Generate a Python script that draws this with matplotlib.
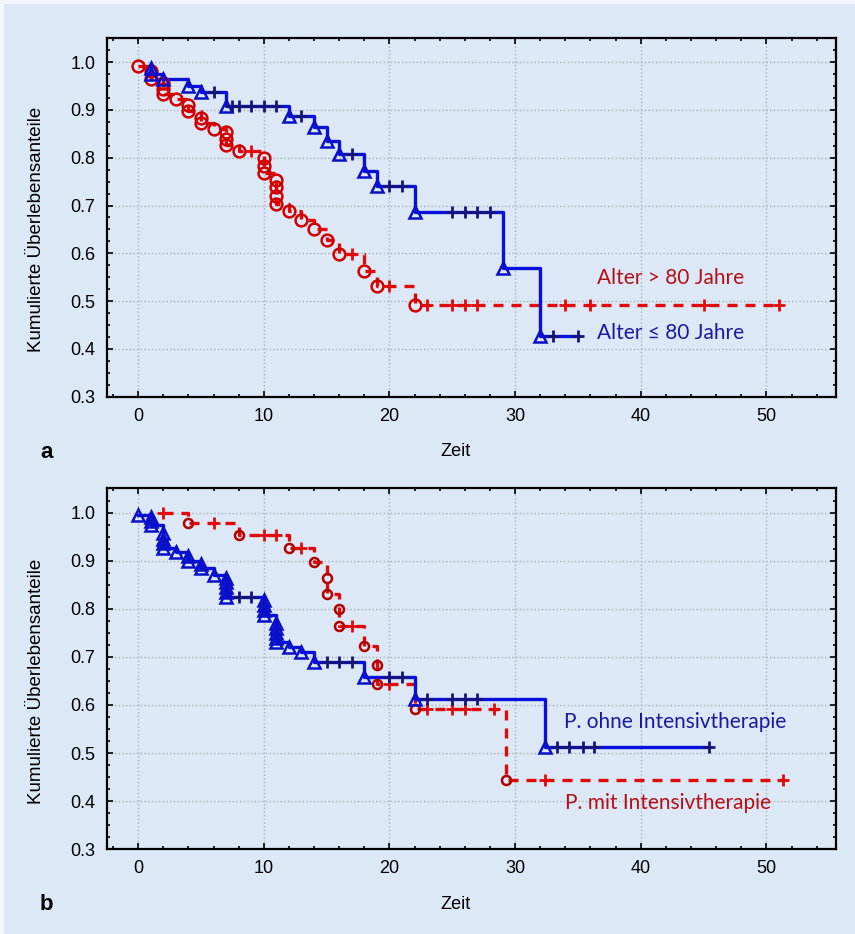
import numpy as np
import matplotlib
matplotlib.use('Agg')
import matplotlib.pyplot as plt
from matplotlib.patches import Rectangle
from matplotlib.ticker import MultipleLocator, FormatStrFormatter

plt.rcParams['font.family'] = ['Liberation Sans', 'DejaVu Sans']

# panel a: Alter <= 80 (blau), Alter > 80 (rot)
a_blue_event_t = [1, 1, 2, 4, 5, 7, 12, 14, 15, 16, 18, 19, 22, 29, 32]
a_blue_event_s = [0.988, 0.976, 0.964, 0.951, 0.937, 0.909, 0.887, 0.864, 0.836,
                  0.807, 0.772, 0.740, 0.686, 0.570, 0.428]
a_blue_cens_t = [6, 7.5, 8, 9, 10, 11, 13, 17, 20, 21, 25, 26, 27, 28, 33, 35]

a_red_event_t = [0, 1, 1, 2, 2, 2, 3, 4, 4, 5, 5, 6, 7, 7, 7, 8, 10, 10, 10,
                 11, 11, 11, 11, 12, 13, 14, 15, 16, 18, 19, 22]
a_red_event_s = [0.992, 0.981, 0.965, 0.957, 0.944, 0.934, 0.922, 0.911, 0.897,
                 0.884, 0.873, 0.861, 0.853, 0.840, 0.826, 0.814, 0.800, 0.782,
                 0.768, 0.753, 0.739, 0.720, 0.703, 0.688, 0.669, 0.650, 0.627,
                 0.598, 0.564, 0.531, 0.491]
a_red_cens_t = [9, 17, 20, 23, 25, 26, 27, 34, 36, 45, 51]

# panel b: ohne Intensivtherapie (blau), mit Intensivtherapie (rot)
b_blue_event_t = [0, 1, 1, 1, 2, 2, 2, 2, 3, 4, 4, 5, 5, 6, 7, 7, 7, 7, 7,
                  10, 10, 10, 10, 11, 11, 11, 11, 11, 12, 13, 14, 18, 22, 32.4]
b_blue_event_s = [0.995, 0.991, 0.983, 0.974, 0.957, 0.946, 0.936, 0.926, 0.918,
                  0.909, 0.900, 0.893, 0.884, 0.870, 0.864, 0.855, 0.845, 0.835,
                  0.825, 0.818, 0.808, 0.797, 0.787, 0.770, 0.760, 0.750, 0.740,
                  0.731, 0.721, 0.711, 0.690, 0.659, 0.612, 0.512]
b_blue_cens_t = [8, 9, 15, 16, 17, 20, 21, 23, 25, 26, 27, 33.3, 34.3, 35.4, 36.3, 45.4]

b_red_event_t = [4, 8, 12, 14, 15, 15, 16, 16, 18, 19, 19, 22, 29.3]
b_red_event_s = [0.978, 0.953, 0.926, 0.898, 0.863, 0.830, 0.799, 0.764, 0.722,
                 0.684, 0.643, 0.591, 0.444]
b_red_cens_t = [2, 6, 10, 11, 13, 17, 20, 23, 25, 26, 28.3, 32.4, 51.3]

BG = '#dce8f5'
BLUE = '#0a10dc'
RED = '#e00a0a'


def km_path(ev_t, ev_s, cens_t):
    ev_t = np.asarray(ev_t, float)
    ev_s = np.asarray(ev_s, float)
    start = min(ev_t.min(), min(cens_t))
    end = max(ev_t.max(), max(cens_t))
    if start < ev_t[0]:
        xs, ys = [start], [1.0]
    else:
        xs, ys = [ev_t[0]], [ev_s[0]]
        ev_t, ev_s = ev_t[1:], ev_s[1:]
    for t, s in zip(ev_t, ev_s):
        xs += [t, t]
        ys += [ys[-1], s]
    xs.append(end)
    ys.append(ys[-1])
    return np.array(xs), np.array(ys)


def surv_at(ev_t, ev_s, t):
    idx = np.searchsorted(ev_t, t, side='right') - 1
    return np.where(idx >= 0, np.asarray(ev_s)[np.clip(idx, 0, None)], 1.0)


def draw_km(ax, ev_t, ev_s, cens_t, color, marker, ms, mec, ls, pluscolor):
    xs, ys = km_path(ev_t, ev_s, cens_t)
    ax.plot(xs, ys, color=color, lw=2.4, ls=ls, zorder=3)
    ax.plot(ev_t, ev_s, ls='none', marker=marker, ms=ms, mfc='none', mec=mec,
            mew=1.8, zorder=4)
    ax.plot(cens_t, surv_at(ev_t, ev_s, cens_t), ls='none', marker='+', ms=9,
            mew=2.0, color=pluscolor, zorder=4)


def style_axes(ax):
    ax.set_facecolor(BG)
    ax.set_xlim(-2.5, 55.5)
    ax.set_ylim(0.3, 1.05)
    ax.xaxis.set_major_locator(MultipleLocator(10))
    ax.xaxis.set_minor_locator(MultipleLocator(2))
    ax.yaxis.set_major_locator(MultipleLocator(0.1))
    ax.yaxis.set_minor_locator(MultipleLocator(0.025))
    ax.yaxis.set_major_formatter(FormatStrFormatter('%.1f'))
    ax.set_yticks(np.arange(0.3, 1.01, 0.1))
    ax.tick_params(which='both', direction='in', top=True, right=True,
                   width=1.2, labelsize=13, colors='black')
    ax.tick_params(which='major', length=4, pad=8)
    ax.tick_params(which='minor', length=2.5)
    ax.grid(True, which='major', color='#a9b1ba', ls=':', lw=1.0)
    for sp in ax.spines.values():
        sp.set_linewidth(1.6)
    ax.set_xlabel('Zeit', fontsize=13)
    ax.set_ylabel('Kumulierte Überlebensanteile', fontsize=13.5)
    ax.xaxis.set_label_coords(0.478, -0.129)
    ax.yaxis.set_label_coords(-0.085, 0.4665)


fig = plt.figure(figsize=(8.55, 9.34), dpi=100, facecolor='#f3f7fc')
fig.patches.append(Rectangle((4 / 855, 0), 1, 1 - 4 / 934, transform=fig.transFigure,
                             facecolor=BG, edgecolor='none', zorder=-10))

ax_a = fig.add_axes([0.1248, 0.5753, 0.8524, 0.3837])
ax_b = fig.add_axes([0.1248, 0.0908, 0.8524, 0.3862])
style_axes(ax_a)
style_axes(ax_b)

draw_km(ax_a, a_red_event_t, a_red_event_s, a_red_cens_t, RED, 'o', 8.5, '#d00000',
        (0, (3, 2.4)), RED)
draw_km(ax_a, a_blue_event_t, a_blue_event_s, a_blue_cens_t, BLUE, '^', 9, '#0a10c8',
        '-', '#141478')

draw_km(ax_b, b_red_event_t, b_red_event_s, b_red_cens_t, RED, 'o', 6.5, '#b00000',
        (0, (3, 2.4)), RED)
draw_km(ax_b, b_blue_event_t, b_blue_event_s, b_blue_cens_t, BLUE, '^', 9, '#0a10c8',
        '-', '#141478')

lab = dict(family=['Lato', 'DejaVu Sans'], fontsize=15, va='center', ha='left')
ax_a.text(36.5, 0.549, 'Alter > 80 Jahre', color='#b41018', **lab)
ax_a.text(36.5, 0.434, 'Alter \u2264 80 Jahre', color='#1a1aa0', **lab)
ax_b.text(33.9, 0.565, 'P. ohne Intensivtherapie', color='#1a1aa0', **lab)
ax_b.text(34.0, 0.396, 'P. mit Intensivtherapie', color='#b41018', **lab)

fig.text(40 / 855, 1 - 452 / 934, 'a', fontsize=16, fontweight='bold', va='center')
fig.text(40 / 855, 1 - 905 / 934, 'b', fontsize=16, fontweight='bold', va='center')

fig.savefig('out.png', dpi=100, facecolor=fig.get_facecolor())
